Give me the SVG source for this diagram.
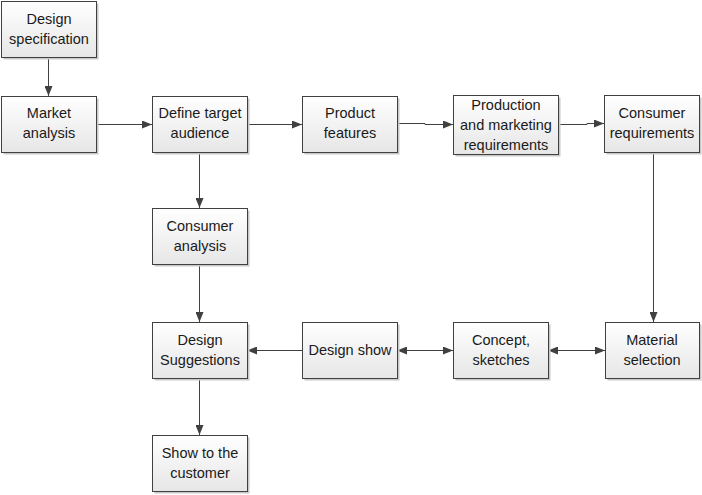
<svg xmlns="http://www.w3.org/2000/svg" width="702" height="495" viewBox="0 0 702 495">
<defs>
<linearGradient id="g" x1="0" y1="0" x2="0" y2="1">
<stop offset="0" stop-color="#ffffff"/>
<stop offset="1" stop-color="#e6e6e6"/>
</linearGradient>
<marker id="ah" viewBox="0 0 10 8" refX="10" refY="4" markerWidth="10" markerHeight="8" markerUnits="userSpaceOnUse" orient="auto-start-reverse">
<path d="M0,0 L10,4 L0,8 Z" fill="#404040"/>
</marker>
<style>
.sh{fill:#c8c8c8;}
.bx{fill:url(#g);stroke:#404040;stroke-width:1;}
.t{font-family:"Liberation Sans",Arial,sans-serif;font-size:14.5px;fill:#1a1a1a;text-anchor:middle;}
.c{fill:none;stroke:#404040;stroke-width:1;}
</style>
</defs>
<rect width="702" height="495" fill="#ffffff"/>
<g id="connectors">
<line class="c" x1="48.5" y1="57" x2="48.5" y2="96" marker-end="url(#ah)"/>
<line class="c" x1="96" y1="124.5" x2="152" y2="124.5" marker-end="url(#ah)"/>
<line class="c" x1="247" y1="124.5" x2="302" y2="124.5" marker-end="url(#ah)"/>
<polyline class="c" points="397,123.5 425,123.5 425,124.5 453,124.5" marker-end="url(#ah)"/>
<polyline class="c" points="558,124.5 587,124.5 587,123.5 604,123.5" marker-end="url(#ah)"/>
<line class="c" x1="653.5" y1="153" x2="653.5" y2="322" marker-end="url(#ah)"/>
<line class="c" x1="199.5" y1="152" x2="199.5" y2="208" marker-end="url(#ah)"/>
<line class="c" x1="199.5" y1="265" x2="199.5" y2="322" marker-end="url(#ah)"/>
<line class="c" x1="199.5" y1="379" x2="199.5" y2="435" marker-end="url(#ah)"/>
<line class="c" x1="302" y1="350.5" x2="247" y2="350.5" marker-end="url(#ah)"/>
<line class="c" x1="397" y1="350.5" x2="453" y2="350.5" marker-start="url(#ah)" marker-end="url(#ah)"/>
<line class="c" x1="548" y1="350.5" x2="605" y2="350.5" marker-start="url(#ah)" marker-end="url(#ah)"/>
</g>
<g id="n1"><rect class="sh" x="3.5" y="3.5" width="95" height="56"/><rect class="bx" x="1.5" y="1.5" width="95" height="56"/>
<text class="t" x="49" y="24">Design</text><text class="t" x="49" y="44">specification</text></g>
<g id="n2"><rect class="sh" x="3.5" y="98.5" width="95" height="56"/><rect class="bx" x="1.5" y="96.5" width="95" height="56"/>
<text class="t" x="49" y="118">Market</text><text class="t" x="49" y="138">analysis</text></g>
<g id="n3"><rect class="sh" x="154.5" y="98.5" width="95" height="56"/><rect class="bx" x="152.5" y="96.5" width="95" height="56"/>
<text class="t" x="200" y="118">Define target</text><text class="t" x="200" y="138">audience</text></g>
<g id="n4"><rect class="sh" x="304.5" y="98.5" width="95" height="56"/><rect class="bx" x="302.5" y="96.5" width="95" height="56"/>
<text class="t" x="350" y="118">Product</text><text class="t" x="350" y="138">features</text></g>
<g id="n5"><rect class="sh" x="455.5" y="97.5" width="105" height="59"/><rect class="bx" x="453.5" y="95.5" width="105" height="59"/>
<text class="t" x="506" y="110">Production</text><text class="t" x="506" y="130">and marketing</text><text class="t" x="506" y="150">requirements</text></g>
<g id="n6"><rect class="sh" x="606.5" y="97.5" width="95" height="57"/><rect class="bx" x="604.5" y="95.5" width="95" height="57"/>
<text class="t" x="652" y="118">Consumer</text><text class="t" x="652" y="138">requirements</text></g>
<g id="n7"><rect class="sh" x="154.5" y="210.5" width="95" height="56"/><rect class="bx" x="152.5" y="208.5" width="95" height="56"/>
<text class="t" x="200" y="231">Consumer</text><text class="t" x="200" y="251">analysis</text></g>
<g id="n8"><rect class="sh" x="154.5" y="324.5" width="95" height="56"/><rect class="bx" x="152.5" y="322.5" width="95" height="56"/>
<text class="t" x="200" y="345">Design</text><text class="t" x="200" y="365">Suggestions</text></g>
<g id="n9"><rect class="sh" x="154.5" y="437.5" width="95" height="56"/><rect class="bx" x="152.5" y="435.5" width="95" height="56"/>
<text class="t" x="200" y="458">Show to the</text><text class="t" x="200" y="478">customer</text></g>
<g id="n10"><rect class="sh" x="304.5" y="324.5" width="95" height="56"/><rect class="bx" x="302.5" y="322.5" width="95" height="56"/>
<text class="t" x="350" y="355">Design show</text></g>
<g id="n11"><rect class="sh" x="455.5" y="324.5" width="95" height="56"/><rect class="bx" x="453.5" y="322.5" width="95" height="56"/>
<text class="t" x="501" y="345">Concept,</text><text class="t" x="501" y="365">sketches</text></g>
<g id="n12"><rect class="sh" x="607.5" y="324.5" width="94" height="56"/><rect class="bx" x="605.5" y="322.5" width="94" height="56"/>
<text class="t" x="652" y="345">Material</text><text class="t" x="652" y="365">selection</text></g>
</svg>
